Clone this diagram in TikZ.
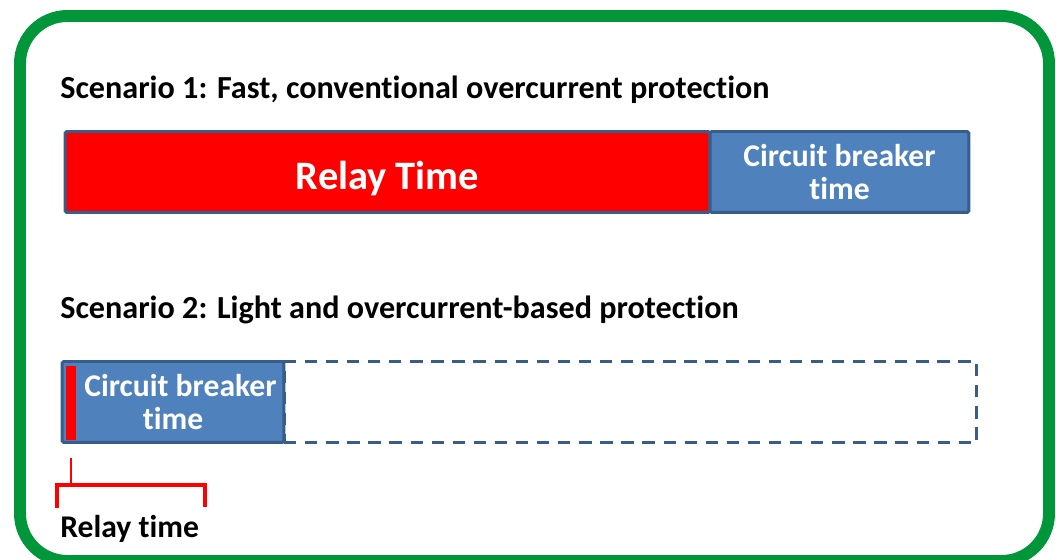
\documentclass[tikz,border=0pt]{standalone}
\usepackage{fontspec}
\setmainfont[Ligatures={NoCommon,NoContextual},RawFeature={-liga;-clig;-calt;-dlig}]{Carlito}
\usepackage{tikz}
\definecolor{relayred}{RGB}{255,0,0}
\definecolor{cbblue}{RGB}{79,129,189}
\definecolor{cbedge}{RGB}{56,93,138}
\definecolor{framegreen}{RGB}{0,150,57}
\newcommand{\scenariotitle}[3] {\node at (#1) (#2) [anchor=west, inner sep=0pt, font=\bfseries\fontsize{18.3}{19}\selectfont] {#3};}
\newcommand{\timebox}[5] {\node at (#1) (#2) [draw=cbedge, line width=1.7pt, fill=#3, rounded corners=1pt, minimum width=#4, minimum height=1.62cm, inner sep=0pt, text=white, align=center, font=\bfseries\fontsize{18}{19}\selectfont] {#5};}
\newcommand{\emptybox}[3] {\node at (#1) (#2) [draw=cbedge, line width=1.7pt, dash pattern=on 7pt off 5pt, minimum width=#3, minimum height=1.62cm, inner sep=0pt] {};}

\begin{document}
\begin{tikzpicture}[x=0.02cm, y=-0.02cm]
\useasboundingbox (0,0) rectangle (1056,560);

% frame
\draw [framegreen, line width=6.8pt, rounded corners=0.95cm] (20,16) rectangle (1049,561);

% scenario 1
\scenariotitle {60,90} {title1} {Scenario 1: Fast, conventional overcurrent protection}
\timebox {387.5,172} {relay1} {relayred} {12.9cm} {\fontsize{23}{23}\selectfont\rule{0pt}{23pt}Relay Time}
\timebox {839.5,172} {breaker1} {cbblue} {5.18cm} {Circuit breaker\\time}

% scenario 2
\scenariotitle {60,310} {title2} {Scenario 2: Light and overcurrent-based protection}
\emptybox {630.5,402} {spare2} {13.86cm}
\timebox {173,402} {breaker2} {cbblue} {4.44cm} {\hspace*{0.3cm}Circuit breaker\\time}
\node at (71,403) (relay2) [fill=relayred, minimum width=0.2cm, minimum height=1.48cm, inner sep=0pt] {};

% relay time brace
\coordinate (braceleft) at (57,508);
\coordinate (braceright) at (205,507);
\coordinate (bracetip) at (71,458);
\draw [relayred, line width=2.3pt] (braceleft) |- (71,485) -| (braceright);
\draw [relayred, line width=1pt] (71,485) -- (bracetip);
\node at (60,529) (relaylabel) [anchor=west, inner sep=0pt, font=\bfseries\fontsize{18}{19}\selectfont] {Relay time};

\end{tikzpicture}
\end{document}
